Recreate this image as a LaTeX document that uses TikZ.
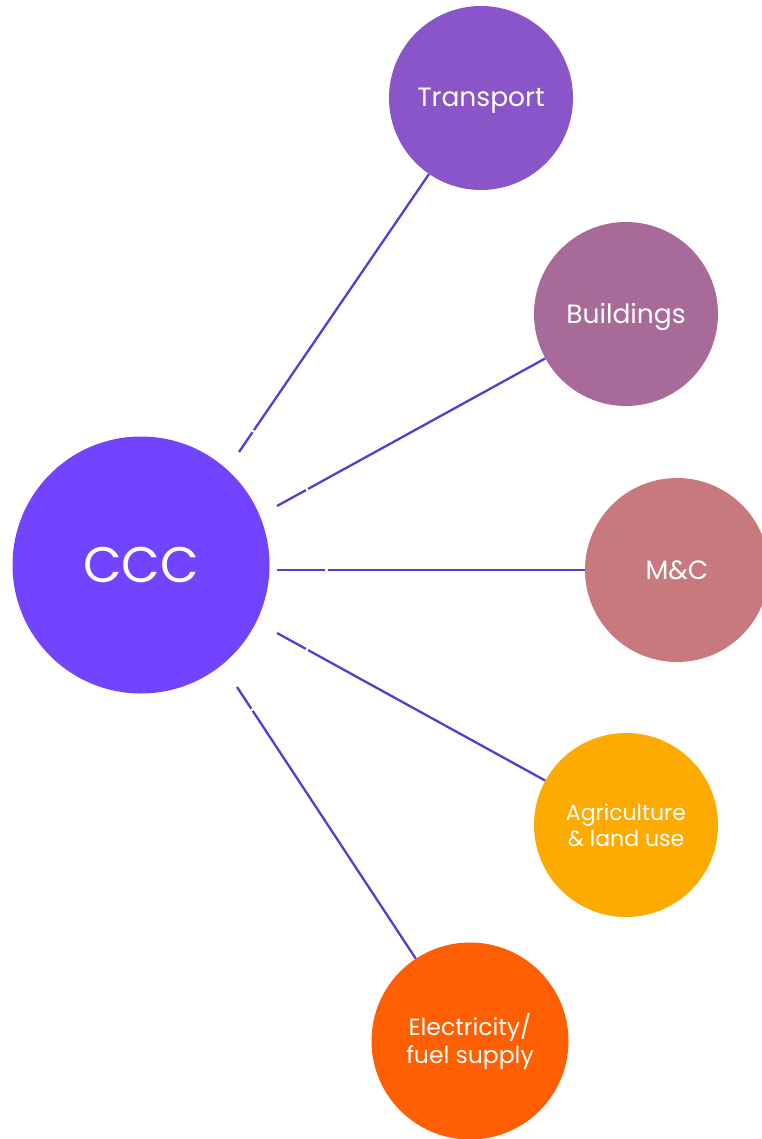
\documentclass[tikz,border=0pt]{standalone}
\usepackage{fontspec}
\setmainfont{Poppins}
\begin{document}
\begin{tikzpicture}[x=1pt,y=-1pt,
  hub/.style={circle,fill=#1,text=white,inner sep=0pt,align=center},
  sector/.style={circle,minimum size=184pt,fill=#1,text=white,inner sep=0pt,align=center,font=\fontsize{26.5}{31}\selectfont},
  oneline/.style={text height=22pt,text depth=4pt},
  link/.style={draw=linkc,line width=2.3pt}]
\definecolor{linkc}{HTML}{5A3BD0}
\definecolor{ccc}{HTML}{7344FF}
\definecolor{transp}{HTML}{8A55C9}
\definecolor{build}{HTML}{A86A98}
\definecolor{mc}{HTML}{C8797E}
\definecolor{agri}{HTML}{FDAB00}
\definecolor{elec}{HTML}{FF5F00}
\clip (0,0) rectangle (762,1139);
\useasboundingbox (0,0) rectangle (762,1139);

% central hub
\node[hub=ccc,minimum size=257pt,font=\fontsize{50}{58}\selectfont\addfontfeature{Weight=Light}] (ccc) at (141,565) {CCC};

% sector circles
\node[sector=transp,oneline] (tr) at (481,98) {Transport};
\node[sector=build,oneline] (bu) at (626,314) {Buildings};
\node[sector=mc,oneline] (mc) at (677,570) {M\&C};
\node[sector=agri,font=\fontsize{22}{26}\selectfont] (ag) at (626,825) {Agriculture\\\& land use};
\node[sector=elec,minimum size=197pt,font=\fontsize{23.5}{28}\selectfont] (el) at (470,1041) {Electricity/\\fuel supply};

% free ends of the connectors beside the hub
\coordinate (s1) at (239,452);
\coordinate (s2) at (277,506);
\coordinate (s3) at (277,570);
\coordinate (s4) at (277,633);
\coordinate (s5) at (237,687);

% connectors, each with a small break near the hub
\draw[link,dash pattern=on 24pt off 2.5pt on 600pt] (s1) -- (tr);
\draw[link,dash pattern=on 33pt off 2.5pt on 600pt] (s2) -- (bu);
\draw[link,dash pattern=on 48pt off 2.5pt on 600pt] (s3) -- (mc);
\draw[link,dash pattern=on 33pt off 2.5pt on 600pt] (s4) -- (ag);
\draw[link,dash pattern=on 26pt off 2.5pt on 600pt] (s5) -- (el);
\end{tikzpicture}
\end{document}
